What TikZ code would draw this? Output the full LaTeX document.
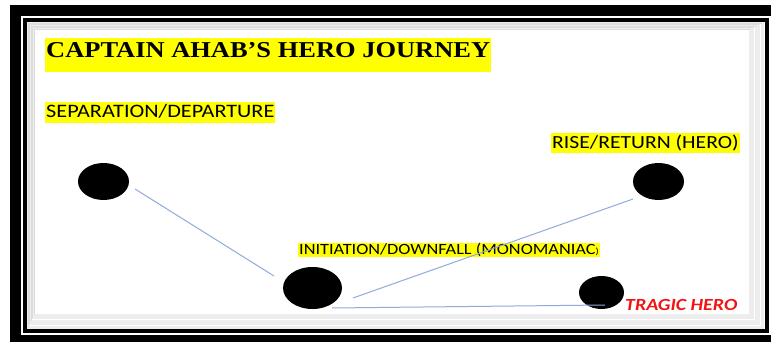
\documentclass[tikz,border=0pt]{standalone}
\usepackage{fontspec}
\usetikzlibrary{shapes.geometric}
\newfontfamily\labfont[FakeStretch=1.17]{Carlito}
\newfontfamily\titlefont[FakeStretch=1.165]{Liberation Serif}
\definecolor{hl}{RGB}{255,255,0}
\definecolor{conn}{RGB}{143,170,220}
\definecolor{tragic}{RGB}{240,20,20}
\tikzset{
  dot/.style={ellipse, fill=black, inner sep=0pt},
  hlbox/.style={fill=hl, inner xsep=1pt, inner ysep=0pt, anchor=base west},
  link/.style={draw=conn, line width=1pt},
}
\begin{document}
\begin{tikzpicture}[x=1pt,y=-1pt]
\useasboundingbox (0,0) rectangle (771,342);
\clip (0,0) rectangle (771,342);
\fill[white] (0,0) rectangle (771,342);
% outer thick frame
\draw[line width=11pt] (15.5,10.5) rectangle (777,340.5);
% inner shadow
\foreach \i in {0,...,12}{
  \draw[black, opacity=0.07, line width=1pt] (27.5+0.6*\i,22.5+0.6*\i) rectangle (763.5-1.2*\i,328.5-1.2*\i);
}
% inner thin frame
\draw[line width=4pt] (25,20) rectangle (766.5,331);
% texts
\node[hlbox, text height=20pt, text depth=14pt, font=\titlefont\bfseries\fontsize{22.7}{26}\selectfont] (title) at (45,58) {CAPTAIN AHAB’S HERO JOURNEY};
\node[hlbox, text height=16pt, text depth=5pt, font=\labfont\fontsize{19}{22}\selectfont] (sepl) at (45,118) {SEPARATION/DEPARTURE};
\node[hlbox, text height=16pt, text depth=4pt, font=\labfont\fontsize{18.5}{22}\selectfont] (risel) at (551,149) {RISE/RETURN (HERO)};
\node[hlbox, text height=11pt, text depth=3pt, font=\labfont\fontsize{15.6}{18}\selectfont] (initl) at (298,254) {INITIATION/DOWNFALL (MONOMANIAC{\fontsize{9}{10}\selectfont)}};
\node[anchor=base west, inner sep=0pt, text=tragic, font=\labfont\bfseries\itshape\fontsize{17}{20}\selectfont] (tragl) at (625,310) {TRAGIC HERO};
% dots
\node[dot, minimum width=51pt, minimum height=37pt] (sep) at (103.5,181.5) {};
\node[dot, minimum width=59pt, minimum height=42pt] (init) at (312.5,288) {};
\node[dot, minimum width=51pt, minimum height=37pt] (rise) at (658.5,181.5) {};
\node[dot, minimum width=45pt, minimum height=33pt] (trag) at (601.5,292.5) {};
% connector ends
\coordinate (a1) at (135,189);
\coordinate (a2) at (274,276);
\coordinate (b1) at (353,298);
\coordinate (b2) at (633,199);
\coordinate (c1) at (332,308);
\coordinate (c2) at (605,305);
\draw[link] (a1) -- (a2);
\draw[link] (b1) -- (b2);
\draw[link] (c1) -- (c2);
\end{tikzpicture}
\end{document}
